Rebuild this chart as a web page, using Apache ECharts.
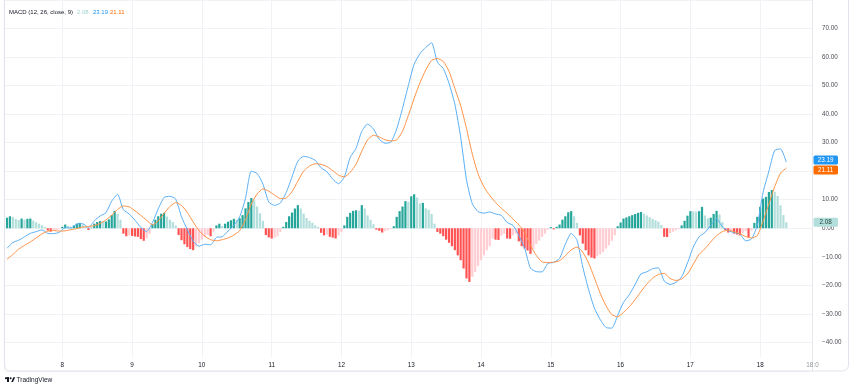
<!DOCTYPE html>
<html>
<head>
<meta charset="utf-8">
<script src="https://cdn.jsdelivr.net/npm/echarts@6/dist/echarts.min.js"></script>
<style>
html,body{margin:0;padding:0;background:#ffffff;}
#chart{width:850px;height:388px;}
</style>
</head>
<body>
<div id="chart"></div>
<script>
// ---------------- DATA ----------------
// Hourly bars; hour 0 = day 7 00:00. Histogram starts at day 7 05:00.
const FIRST_DAY = 7;
const HIST_START_HOUR = 5;
const histValues = [
  // day 7, 05:00-23:00
  3.7, 4.2, 3.9, 3.2, 2.9, 3.4, 3.0, 3.3, 3.4, 2.7, 2.1, 1.6, 1.1, 0.5, -0.8, -1.2, -0.9, -0.6, -0.3,
  // day 8
  0.5, 1.3, 0.8, 0.5, 1.0, 1.6, 1.9, 1.3, 0.6, -0.6, 0.2, 1.6, 2.2, 2.5, 2.3, 2.4, 3.1, 4.6, 6.1, 5.0, 3.0, -1.9, -2.8, -2.5,
  // day 9
  -2.7, -2.9, -3.0, -3.8, -4.4, -3.6, -2.0, 1.4, 3.0, 4.2, 5.1, 5.4, 4.1, 3.0, 2.2, 1.0, -2.4, -4.2, -5.6, -6.6, -7.3, -7.7, -6.4, -5.2,
  // day 10
  -4.0, -3.0, -2.4, -2.8, -1.2, 1.0, 1.6, 0.8, 1.6, 2.3, 2.8, 3.3, 2.9, 3.5, 4.6, 7.0, 9.2, 10.6, 9.8, 7.6, 5.2, 2.6, -2.4, -3.2,
  // day 11
  -3.6, -3.4, -2.8, -1.3, 0.5, 2.2, 4.2, 5.5, 6.9, 8.1, 6.9, 5.1, 3.6, 2.6, 1.9, 1.0, 0.5, -1.6, -2.5, -2.3, -3.0, -3.3, -3.6, -2.5,
  // day 12
  -1.3, 1.0, 4.0, 5.4, 6.1, 6.3, 6.2, 8.1, 6.9, 4.5, 3.0, 1.4, -0.5, -0.9, -1.5, -1.0, -0.7, -0.3, 0.7, 4.0, 6.0, 7.6, 9.5, 9.3,
  // day 13
  11.2, 11.9, 10.8, 8.7, 8.9, 7.0, 6.5, 5.0, 1.6, -1.3, -1.9, -2.8, -4.0, -5.1, -6.3, -7.7, -9.5, -11.2, -14.1, -17.6, -18.8, -17.0, -15.3, -13.3,
  // day 14
  -11.2, -9.5, -7.7, -6.3, -3.6, -4.0, -4.1, -2.6, -2.0, -3.6, -3.7, -2.5, -1.9, -4.6, -6.3, -7.1, -7.8, -9.0, -7.2, -5.5, -4.3, -3.0, -1.9, -0.5,
  // day 15
  0.4, -0.4, 0.5, 1.3, 3.0, 4.2, 5.6, 6.0, 4.2, 1.9, -2.5, -5.4, -7.7, -9.5, -10.3, -10.6, -9.8, -9.1, -8.3, -7.1, -6.0, -4.4, -2.5, 0.7,
  // day 16
  2.0, 3.4, 3.8, 4.2, 4.6, 5.0, 5.4, 5.7, 5.1, 4.5, 3.9, 3.3, 2.8, 2.3, 1.1, -3.0, -3.1, -1.8, -1.2, -0.7, -0.3, 1.0, 2.6, 4.4,
  // day 17
  6.0, 5.9, 5.8, 6.0, 7.5, 4.5, 3.5, 3.7, 5.0, 6.1, 4.8, 2.2, -0.7, -1.5, -1.3, -1.9, -2.2, -2.5, -1.8, -1.0, -3.2, -0.8, 1.9, 4.0,
  // day 18, 00:00-09:00
  7.5, 10.4, 11.0, 12.7, 13.4, 12.7, 11.3, 8.0, 4.6, 2.08
];

// MACD and signal lines, read every 2 hours from day 7 05:00
const LINE_START_HOUR = 5;
const LINE_STEP_HOURS = 2;
const macdValues = [
  -7.0, -5.0, -4.2, -3.0, -1.8, -1.2, -0.6, -1.8, -1.9, -1.4,
  0.2, 0.1, 1.5, 1.6, 0.2, 2.6, 4.3, 5.4, 9.5, 11.9,
  6.5, 5.0, 2.8, 0.3, -1.2, 2.0, 6.8, 10.8, 11.2, 10.2,
  4.0, -0.5, -4.5, -6.3, -5.6, -5.8, -3.2, -3.0, -1.0, 1.0,
  4.0, 10.5, 20.0, 19.2, 15.5, 9.2, 8.0, 8.9, 12.5, 18.0,
  23.5, 25.2, 24.8, 23.8, 21.2, 19.8, 17.2, 15.6, 18.0, 24.8,
  28.0, 34.0, 36.5, 34.8, 31.2, 29.8, 30.2, 34.8, 42.0, 50.0,
  57.5, 61.2, 63.4, 65.0, 58.2, 56.0, 50.8, 43.5, 32.0, 17.0,
  8.6, 5.8, 5.3, 5.7, 5.0, 4.5, 2.0, 1.0, -2.5, -7.0,
  -14.0, -15.2, -15.3, -12.3, -12.0, -10.6, -5.6, -1.8, -4.2, -13.6,
  -21.5, -28.0, -32.0, -34.8, -35.0, -30.5, -26.0, -23.3, -19.7, -16.0,
  -15.3, -14.2, -13.9, -18.5, -19.7, -19.0, -17.0, -12.2, -6.6, -3.0,
  -1.5, 1.0, 3.3, 0.5, -0.9, -1.5, -2.0, -4.4, -3.8, 1.0,
  12.6, 20.0, 27.3, 27.8, 23.19
];
const signalValues = [
  -10.9, -9.2, -7.3, -6.0, -4.8, -3.4, -2.0, -1.0, -0.8, -1.0,
  -0.9, -0.5, -0.1, 0.4, 0.6, 0.9, 1.7, 2.9, 4.6, 6.6,
  7.8, 7.5, 6.1, 4.5, 2.8, 1.2, 2.6, 5.2, 7.6, 9.0,
  8.0, 5.5, 2.2, -0.8, -2.8, -4.0, -4.4, -4.0, -3.4, -2.4,
  -0.8, 3.0, 8.5, 12.0, 13.8, 13.0, 11.6, 10.4, 10.6, 12.8,
  16.5, 20.0, 21.8, 22.6, 22.4, 21.6, 20.2, 18.6, 18.0, 19.6,
  22.4, 27.0, 31.0, 32.6, 32.0, 31.0, 30.6, 31.0, 34.0, 39.5,
  45.5, 51.0, 55.5, 58.8, 59.5, 58.5, 55.0, 49.0, 43.0, 35.0,
  26.0, 19.0, 14.5, 11.5, 9.0, 7.0, 5.2, 3.2, 1.2, -1.5,
  -6.0, -9.5, -11.8, -12.0, -11.9, -11.4, -9.6, -7.6, -6.6, -8.4,
  -12.2, -17.4, -22.8, -27.2, -30.3, -31.0, -29.5, -27.5, -25.0, -22.2,
  -19.6, -17.5, -16.2, -15.8, -17.6, -18.3, -17.8, -16.0, -12.6, -9.2,
  -7.2, -4.8, -2.6, -1.2, -0.7, -1.2, -1.9, -2.9, -3.4, -2.6,
  2.5, 8.5, 14.6, 19.3, 21.11
];

// Time axis: one tick per day; visible range from day 7 ~04:00 to day 18 18:00
const DAY_TICK_LABELS = ['8', '9', '10', '11', '12', '13', '14', '15', '16', '17', '18'];
const TIME_AXIS_START_HOUR = 3.95;
const TIME_AXIS_END_HOUR = 282;
const END_TICK_LABEL = '18:0';
const LEGEND_TITLE = 'MACD (12, 26, close, 9)';

// ---------------- CHART ----------------
const FONT = '"Liberation Sans", Arial, sans-serif';
const C_UP = '#26a69a', C_UP_FALL = '#b2dfdb', C_DN = '#ff5252', C_DN_RISE = '#ffcdd2';
const C_MACD = '#5aaff5', C_SIGNAL = '#ff9245';

const toDay = (h) => FIRST_DAY + h / 24;

const histData = histValues.map((v, i) => {
  const prev = i > 0 ? histValues[i - 1] : -Infinity;
  let color;
  if (v >= 0) color = v > prev ? C_UP : C_UP_FALL;
  else color = v < prev ? C_DN : C_DN_RISE;
  return { value: [toDay(HIST_START_HOUR + i), v], itemStyle: { color } };
});
const macdData = macdValues.map((v, i) => [toDay(LINE_START_HOUR + i * LINE_STEP_HOURS), v]);
const signalData = signalValues.map((v, i) => [toDay(LINE_START_HOUR + i * LINE_STEP_HOURS), v]);

const lastHist = histValues[histValues.length - 1];
const lastMacd = macdValues[macdValues.length - 1];
const lastSignal = signalValues[signalValues.length - 1];
const axisMin = toDay(TIME_AXIS_START_HOUR);
const axisMax = toDay(TIME_AXIS_END_HOUR);

function fmtPrice(v) {
  return (v < 0 ? '\u2212' : '') + Math.abs(v).toFixed(2);
}
function dayLabel(v) {
  if (Math.abs(v - axisMax) < 1e-6) return '{t|' + END_TICK_LABEL + '}';
  const r = Math.round(v);
  if (Math.abs(v - r) > 1e-6) return '';
  const i = r - (FIRST_DAY + 1);
  return (i >= 0 && i < DAY_TICK_LABELS.length) ? DAY_TICK_LABELS[i] : '';
}

const chart = echarts.init(document.getElementById('chart'), null, { renderer: 'canvas' });

const xBase = {
  type: 'value', min: axisMin, max: axisMax, splitNumber: 12, minInterval: 1, maxInterval: 1,
  position: 'bottom', axisLine: { show: false }, axisTick: { show: false }
};

chart.setOption({
  animation: false,
  backgroundColor: '#ffffff',
  grid: { left: 4, right: 37.5, top: 0, bottom: 17.1, containLabel: false },
  xAxis: [
    Object.assign({}, xBase, {
      z: 0, axisLabel: { show: false },
      splitLine: { show: true, lineStyle: { color: '#f0f2f6', width: 1 } }
    }),
    Object.assign({}, xBase, {
      z: 10, splitLine: { show: false },
      axisLabel: {
        inside: true, margin: 3, fontSize: 6.3, fontFamily: FONT, color: '#131722',
        showMinLabel: false, showMaxLabel: true,
        formatter: dayLabel,
        rich: { t: { color: '#9598a1', fontSize: 6.3, fontFamily: FONT } }
      }
    })
  ],
  yAxis: {
    type: 'value', position: 'right', min: -50, max: 80, interval: 10,
    axisLine: { show: true, lineStyle: { color: '#e6e8ee', width: 1 } },
    axisTick: { show: false },
    splitLine: { show: true, lineStyle: { color: '#f0f2f6', width: 1 } },
    axisLabel: {
      margin: 9.5, fontSize: 6.3, fontFamily: FONT, color: '#4a4d55', align: 'left',
      formatter: (v) => (v <= -50 || v >= 80) ? '' : fmtPrice(v)
    }
  },
  series: [
    {
      name: 'Histogram', type: 'bar', xAxisIndex: 0, yAxisIndex: 0, barWidth: 2.2,
      data: histData, z: 2
    },
    {
      name: 'MACD', type: 'line', xAxisIndex: 0, yAxisIndex: 0, data: macdData,
      showSymbol: false, smooth: 0.2, z: 3,
      lineStyle: { color: C_MACD, width: 1 }
    },
    {
      name: 'Signal', type: 'line', xAxisIndex: 0, yAxisIndex: 0, data: signalData,
      showSymbol: false, smooth: 0.2, z: 4,
      lineStyle: { color: C_SIGNAL, width: 1 }
    }
  ],
  graphic: [
    { id: 'timeAxisCover', type: 'rect', z: 1, silent: true,
      shape: { x: 5, y: 357.5, width: 807, height: 12.8 }, style: { fill: '#ffffff' } },
    { id: 'frame', type: 'rect', z: 20, silent: true,
      shape: { x: 4.5, y: -10, width: 844, height: 381, r: 6 },
      style: { fill: null, stroke: '#e0e3eb', lineWidth: 1 } },
    { id: 'legTitle', type: 'text', z: 20, x: 9, y: 12,
      style: { text: LEGEND_TITLE, font: '6px ' + FONT, fill: '#131722', textVerticalAlign: 'middle' } },
    { id: 'legHist', type: 'text', z: 20, x: 77, y: 12,
      style: { text: lastHist.toFixed(2), font: '6px ' + FONT, fill: '#9fd6cd', textVerticalAlign: 'middle' } },
    { id: 'legMacd', type: 'text', z: 20, x: 93, y: 12,
      style: { text: lastMacd.toFixed(2), font: '6px ' + FONT, fill: '#2196f3', textVerticalAlign: 'middle' } },
    { id: 'legSignal', type: 'text', z: 20, x: 110, y: 12,
      style: { text: lastSignal.toFixed(2), font: '6px ' + FONT, fill: '#ff6d00', textVerticalAlign: 'middle' } },
    // TradingView logo
    { id: 'logoT1', type: 'rect', z: 20, shape: { x: 5, y: 377.3, width: 4, height: 1.8 }, style: { fill: '#131722' } },
    { id: 'logoT2', type: 'rect', z: 20, shape: { x: 7, y: 377.3, width: 2, height: 4.8 }, style: { fill: '#131722' } },
    { id: 'logoDot', type: 'circle', z: 20, shape: { cx: 10.6, cy: 378.3, r: 1 }, style: { fill: '#131722' } },
    { id: 'logoV', type: 'polygon', z: 20, shape: { points: [[11.2, 382.1], [13.4, 377.3], [15.2, 377.3], [13.0, 382.1]] }, style: { fill: '#131722' } },
    { id: 'logoText', type: 'text', z: 20, x: 16.5, y: 380,
      style: { text: 'TradingView', font: '500 6.5px ' + FONT, fill: '#131722', textVerticalAlign: 'middle' } }
  ]
});

// Price-scale value boxes at the last values (positions from the library's own y scale)
const BOX_H = 9;
let yMacd = chart.convertToPixel({ yAxisIndex: 0 }, lastMacd);
let ySignal = chart.convertToPixel({ yAxisIndex: 0 }, lastSignal);
const yHist = chart.convertToPixel({ yAxisIndex: 0 }, lastHist);
if (ySignal - yMacd < BOX_H) {
  const mid = (yMacd + ySignal) / 2;
  yMacd = mid - BOX_H / 2 - 0.5;
  ySignal = mid + BOX_H / 2 + 0.5;
}
function priceBox(id, y, text, bg, fg) {
  return [
    { id: id + 'Bg', type: 'rect', z: 30, shape: { x: 813.5, y: y - BOX_H / 2, width: 24.5, height: BOX_H, r: 1.5 }, style: { fill: bg } },
    { id: id + 'Tx', type: 'text', z: 31, x: 825.7, y: y,
      style: { text: text, font: '6.3px ' + FONT, fill: fg, textAlign: 'center', textVerticalAlign: 'middle' } }
  ];
}
chart.setOption({
  graphic: [].concat(
    priceBox('boxMacd', yMacd, lastMacd.toFixed(2), '#2196f3', '#ffffff'),
    priceBox('boxSignal', ySignal, lastSignal.toFixed(2), '#ff6d00', '#ffffff'),
    priceBox('boxHist', yHist, lastHist.toFixed(2), '#b2dfdb', '#1f3d39')
  )
});
</script>
</body>
</html>
